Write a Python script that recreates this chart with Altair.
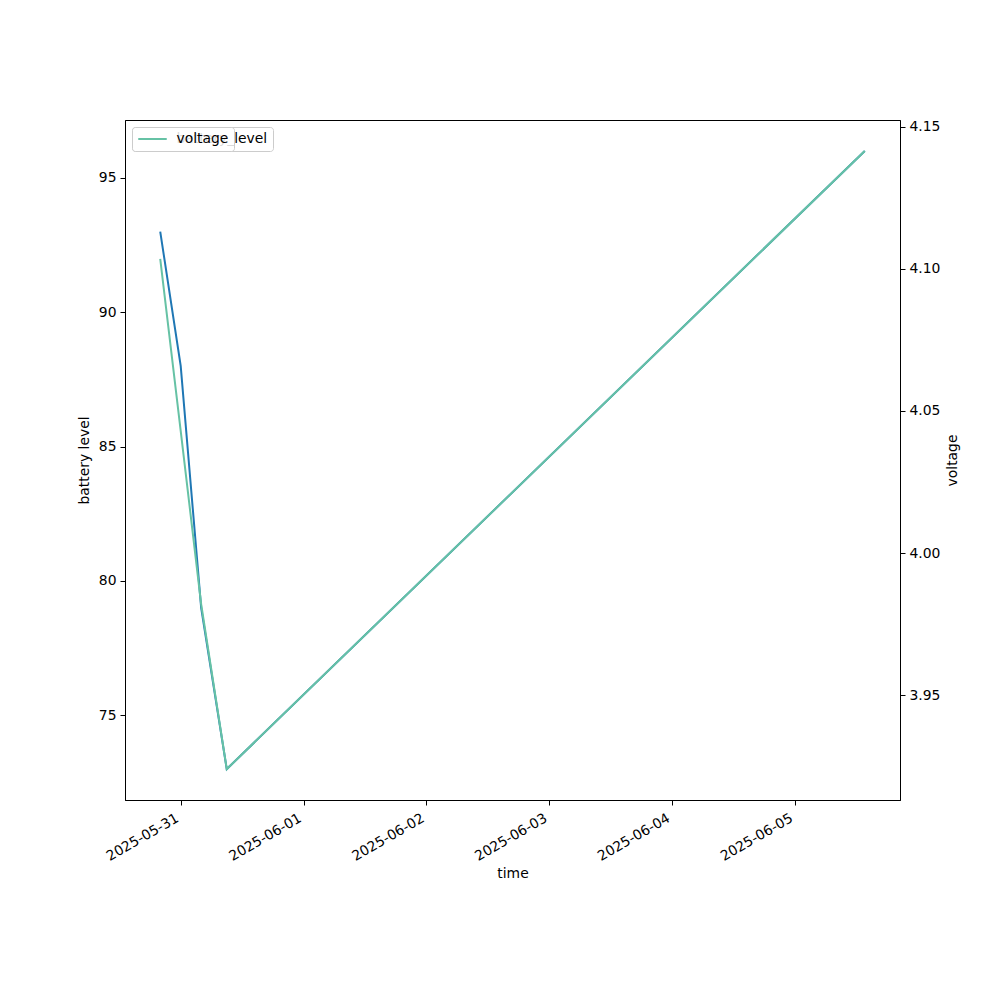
import altair as alt
import pandas as pd

# ---- data ----
times = ["2025-05-30T20:00:00", "2025-05-31T00:00:00", "2025-05-31T04:00:00",
         "2025-05-31T09:00:00", "2025-06-05T13:40:00"]
battery_level = [93, 88, 79, 73, 96]
voltage = [4.1035, 4.043, 3.982, 3.924, 4.1415]

left_ticks = [75, 80, 85, 90, 95]
right_ticks = [3.95, 4.00, 4.05, 4.10, 4.15]
day_ticks = ["2025-05-31", "2025-06-01", "2025-06-02", "2025-06-03", "2025-06-04", "2025-06-05"]

df = pd.DataFrame({"time": times, "battery_level": battery_level, "voltage": voltage})

def padded(lo, hi, m=0.05):
    r = hi - lo
    return [lo - m * r, hi + m * r]

t = pd.to_datetime(pd.Series(times))
t_span = t.max() - t.min()
x_dom = [(t.min() - 0.05 * t_span).strftime("%Y-%m-%dT%H:%M:%S"),
         (t.max() + 0.05 * t_span).strftime("%Y-%m-%dT%H:%M:%S")]
b_dom = padded(min(battery_level), max(battery_level))
v_dom = padded(min(voltage), max(voltage))

FONT = "DejaVu Sans"
FS = 13.9
BLUE = "#1f77b4"
GREEN = "#66c2a5"

tick_vals = [alt.DateTime(year=int(d[:4]), month=int(d[5:7]), date=int(d[8:10])) for d in day_ticks]

x_enc = alt.X(
    "time:T",
    scale=alt.Scale(domain=x_dom, nice=False),
    axis=alt.Axis(
        title="time", values=tick_vals, format="%Y-%m-%d",
        labelAngle=330, labelAlign="right", labelBaseline="bottom", labelPadding=18,
        titleX=387.5, titleY=73, titleBaseline="middle", titleAlign="center",
    ),
)

legend_common = dict(
    orient="none", legendX=7, legendY=7, title=None,
    symbolType="M-2.5,0L2.5,0", symbolSize=129, symbolStrokeWidth=2, symbolOffset=8.5,
    labelFont=FONT, labelFontSize=FS, labelColor="black", labelOffset=17,
    fillColor="rgba(255,255,255,0.85)", strokeColor="#cccccc", cornerRadius=3,
    padding=5,
)

blue = alt.Chart(df).mark_line(strokeWidth=2).encode(
    x=x_enc,
    y=alt.Y(
        "battery_level:Q",
        scale=alt.Scale(domain=b_dom, nice=False, zero=False),
        axis=alt.Axis(title="battery level", orient="left", values=left_ticks,
                      titleX=-41, titleY=340, titleBaseline="middle", titleAngle=270),
    ),
    color=alt.Color("s:N", scale=alt.Scale(domain=["battery_level"], range=[BLUE]),
                    legend=alt.Legend(**legend_common)),
).transform_calculate(s="'battery_level'")

green = alt.Chart(df).mark_line(strokeWidth=2).encode(
    x=x_enc,
    y=alt.Y(
        "voltage:Q",
        scale=alt.Scale(domain=v_dom, nice=False, zero=False),
        axis=alt.Axis(title="voltage", orient="right", values=right_ticks, format=".2f",
                      titleX=52, titleY=340, titleBaseline="middle", titleAngle=270),
    ),
    color=alt.Color("s2:N", scale=alt.Scale(domain=["voltage"], range=[GREEN]),
                    legend=alt.Legend(**legend_common)),
).transform_calculate(s2="'voltage'")

chart = alt.layer(blue, green).resolve_scale(
    y="independent", color="independent"
).properties(
    width=775, height=680,
    autosize=alt.AutoSizeParams(type="none"),
    padding={"left": 117, "top": 112, "right": 92, "bottom": 192},
).configure_view(
    stroke="black", strokeWidth=1
).configure_axis(
    grid=False, domainColor="black", domainWidth=1, tickColor="black", tickSize=5,
    labelFont=FONT, labelFontSize=FS, labelColor="black", labelPadding=4,
    titleFont=FONT, titleFontSize=FS, titleFontWeight="normal", titleColor="black",
)

chart.save("out.html", embed_options={"renderer": "svg", "actions": False})
